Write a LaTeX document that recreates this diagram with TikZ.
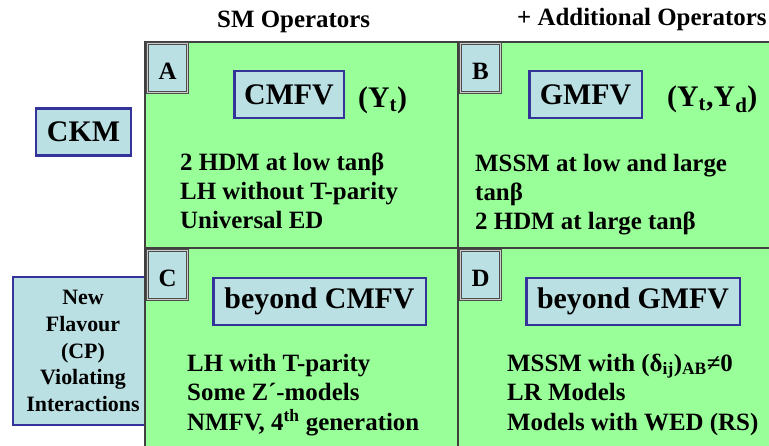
\documentclass[tikz,border=0pt]{standalone}
\usepackage{fontspec}
\setmainfont{Liberation Serif}

\definecolor{cellgreen}{HTML}{99FF99}
\definecolor{boxblue}{HTML}{BBE0E3}
\definecolor{frameblue}{HTML}{333399}

\begin{document}
\begin{tikzpicture}[x=1bp, y=-1bp,
    txt/.style={font=\bfseries\fontsize{25}{29.5}\selectfont, inner sep=0pt},
    bigtxt/.style={font=\bfseries\fontsize{30}{34}\selectfont, inner sep=0pt},
    classbox/.style={bigtxt, draw=frameblue, line width=2.5bp, fill=boxblue, minimum height=47bp},
    letterbox/.style={txt, draw=black!70, double=gray!40, double distance=0.8bp, line width=1.2bp, fill=boxblue,
                      text height=24bp, text depth=0pt, minimum width=40bp, minimum height=49bp},
    cellline/.style={black!75, line width=1.2bp}]

    \useasboundingbox (0,0) rectangle (769,446);

    % Column headers
    \node [txt, anchor=base west] (smhead) at (217,28) {SM Operators};
    \node [txt, anchor=base west] (addhead) at (517,26) {+ Additional Operators};

    % Row labels
    \node [classbox, minimum width=139.5bp, minimum height=147.5bp, align=center,
           font=\bfseries\fontsize{22}{27}\selectfont] (newflav) at (83,351)
        {New\\Flavour\\(CP)\\Violating\\Interactions};
    \node [classbox, minimum width=94.5bp] (ckm) at (83.5,132) {CKM};

    % Green cells and dividers
    \fill [cellgreen] (145,42) rectangle (769,446);
    \draw [cellline] (769,42) -- (145,42) -- (145,446);
    \draw [cellline] (458,42) -- (458,446);
    \draw [cellline] (145,248) -- (769,248);

    % Cell letters
    \node [letterbox] (cellA) at (167.5,68) {A};
    \node [letterbox] (cellB) at (480.5,68) {B};
    \node [letterbox] (cellC) at (167.5,275) {C};
    \node [letterbox] (cellD) at (480.5,275) {D};

    % Classes
    \node [classbox, minimum width=109.5bp] (cmfv) at (289,94.5) {CMFV};
    \node [classbox, minimum width=112.5bp] (gmfv) at (585.5,94.5) {GMFV};
    \node [classbox, minimum width=212.5bp] (bcmfv) at (319.5,301.5) {beyond CMFV};
    \node [classbox, minimum width=213.5bp] (bgmfv) at (633,301.5) {beyond GMFV};

    % Yukawa couplings
    \node [bigtxt, anchor=base west] (yukA) at (358,108) {(Y\textsubscript{t})};
    \node [bigtxt, anchor=base west] (yukB) at (667,107) {(Y\textsubscript{t},Y\textsubscript{d})};

    % Models in each cell (anchored at the last line)
    \node [txt, anchor=base west, align=left] (modA) at (180,229)
        {2 HDM at low tanβ\\LH without T-parity\\Universal ED};
    \node [txt, anchor=base west, align=left] (modB) at (475,230)
        {MSSM at low and large\\tanβ\\2 HDM at large tanβ};
    \node [txt, anchor=base west, align=left] (modC) at (187,430)
        {LH with T-parity\\Some Z´-models\\NMFV, 4\textsuperscript{th} generation};
    \node [txt, anchor=base west, align=left] (modD) at (507,430)
        {MSSM with (δ\textsubscript{ij})\textsubscript{AB}≠0\\LR Models\\Models with WED (RS)};

\end{tikzpicture}
\end{document}
